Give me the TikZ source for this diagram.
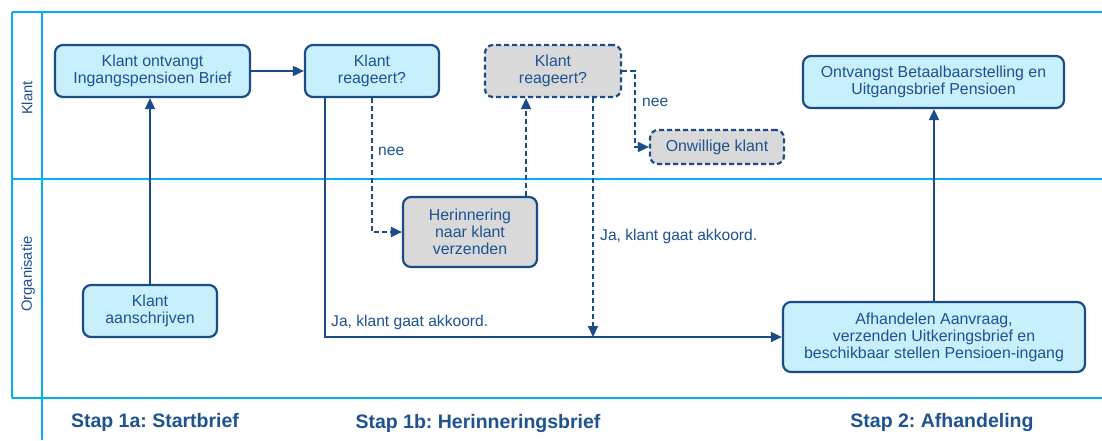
\documentclass[tikz,border=0pt]{standalone}
\usepackage{fontspec}
\setmainfont{Liberation Sans}
\usetikzlibrary{arrows.meta}
\frenchspacing
\definecolor{laneblue}{RGB}{0,176,240}
\definecolor{edgeblue}{RGB}{28,76,136}
\definecolor{textblue}{RGB}{30,82,145}
\definecolor{boxcyan}{RGB}{200,239,252}
\definecolor{boxgray}{RGB}{217,217,217}
\tikzset{
  lane/.style={draw=laneblue, line width=2pt},
  proc/.style={draw=edgeblue, fill=boxcyan, rounded corners=8pt, line width=2.2pt,
    align=center, text=textblue, inner sep=2pt,
    font=\fontsize{15.9}{17}\selectfont},
  waitbox/.style={proc, fill=boxgray},
  flow/.style={draw=edgeblue, line width=1.8pt, -{Triangle[length=11pt,width=10pt]}},
  dflow/.style={flow, dash pattern=on 5pt off 3pt},
  flowlabel/.style={text=textblue, font=\fontsize{15.6}{17}\selectfont, inner sep=0pt},
  lanelabel/.style={text=textblue, rotate=90, font=\fontsize{14.8}{16}\selectfont, inner sep=0pt},
  steplabel/.style={text=textblue, font=\fontsize{19.5}{21}\selectfont\bfseries, inner sep=0pt}
}
\begin{document}
\begin{tikzpicture}[x=1pt,y=-1pt]
\useasboundingbox (0,0) rectangle (1102,440);
\fill[white] (0,0) rectangle (1102,440);

% swimlane frame
\draw[lane] (12,12) -- (1102,12);
\draw[lane] (12,179) -- (1102,179);
\draw[lane] (12,398) -- (1102,398);
\draw[lane] (12,12) -- (12,398);
\draw[lane] (42,12) -- (42,440);

\node[lanelabel] (lk) at (27,98) {Klant};
\node[lanelabel] (lo) at (28,274) {Organisatie};

% process steps
\node[proc, minimum width=195pt, minimum height=52pt] (n1) at (152.5,71) {Klant ontvangt\\Ingangspensioen Brief};
\node[proc, minimum width=134pt, minimum height=52pt] (n2) at (372,71) {Klant\\reageert?};
\node[waitbox, dash pattern=on 5pt off 3pt, minimum width=136pt, minimum height=52pt] (n3) at (553,71) {Klant\\reageert?};
\node[waitbox, minimum width=134pt, minimum height=70pt] (n4) at (470,232) {Herinnering\\naar klant\\verzenden};
\node[waitbox, dash pattern=on 5pt off 3pt, minimum width=134pt, minimum height=34pt] (n5) at (717,147) {Onwillige klant};
\node[proc, minimum width=261pt, minimum height=52pt] (n6) at (933.5,82) {Ontvangst Betaalbaarstelling en\\Uitgangsbrief Pensioen};
\node[proc, minimum width=134pt, minimum height=52pt] (n7) at (150,311) {Klant\\aanschrijven};
\node[proc, minimum width=302pt, minimum height=70pt] (n8) at (934,337) {Afhandelen Aanvraag,\\verzenden Uitkeringsbrief en\\beschikbaar stellen Pensioen-ingang};

% connectors
\draw[flow] (n7.north) -- (n7.north |- n1.south);
\draw[flow] (n1.east) -- (n2.west);
\draw[flow] ([xshift=-47pt]n2.south) |- (n8.west);
\draw[dflow] (n2.south) |- (n4.west);
\draw[dflow] ([xshift=56pt]n4.north) -- ([xshift=56pt]n4.north |- n3.south);
\coordinate (c1) at (635,71);
\draw[dflow] (n3.east) -- (c1) |- (n5.west);
\draw[dflow] ([xshift=40pt]n3.south) -- ([xshift=40pt]n3.south |- n8.west);
\draw[flow] (n8.north) -- (n8.north |- n6.south);

% connector labels
\node[flowlabel, anchor=west] (l1) at (331,322) {Ja, klant gaat akkoord.};
\node[flowlabel, anchor=west] (l2) at (378,151) {nee};
\node[flowlabel, anchor=west] (l3) at (642,102) {nee};
\node[flowlabel, anchor=west] (l4) at (600,236) {Ja, klant gaat akkoord.};

% phase labels
\node[steplabel] (s1) at (155,422) {Stap 1a: Startbrief};
\node[steplabel] (s2) at (478,423) {Stap 1b: Herinneringsbrief};
\node[steplabel] (s3) at (942,422) {Stap 2: Afhandeling};
\end{tikzpicture}
\end{document}
